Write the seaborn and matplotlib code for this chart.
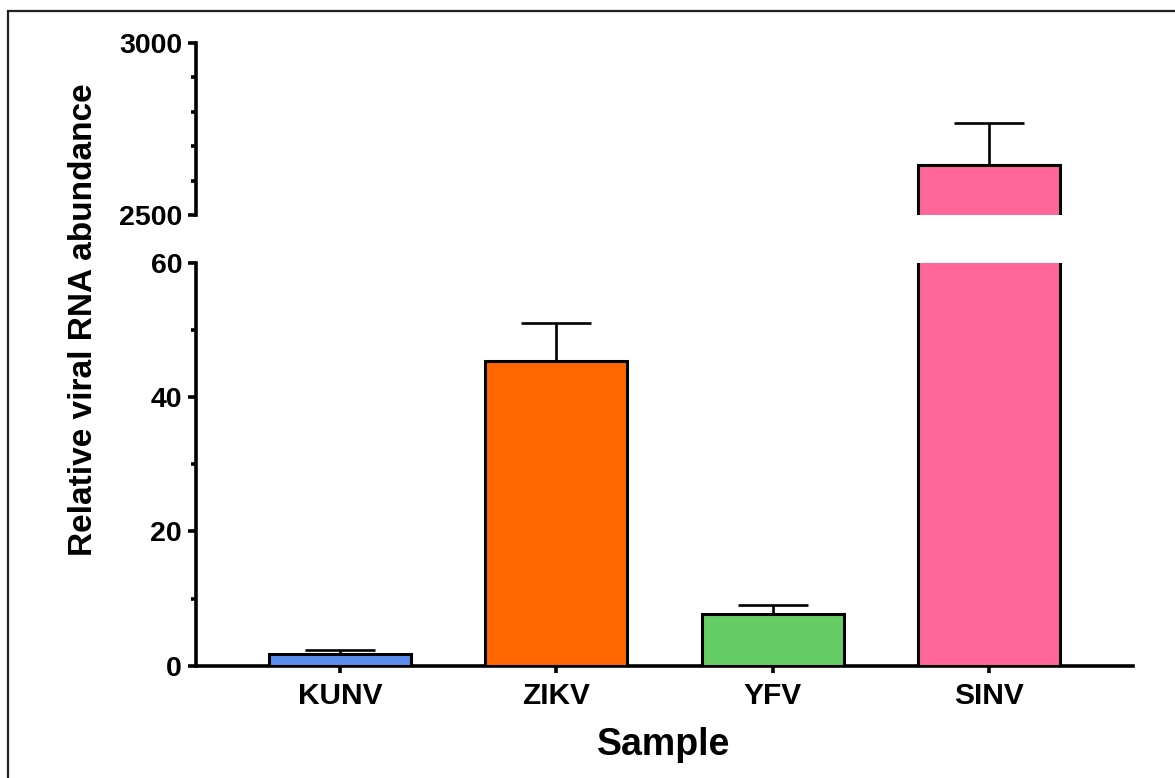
import matplotlib
matplotlib.use("Agg")
import matplotlib.pyplot as plt
from matplotlib.patches import Rectangle
from matplotlib.ticker import FixedLocator
import numpy as np
import seaborn as sns

# Relative viral RNA abundance per sample (mean and SEM)
samples = ["KUNV", "ZIKV", "YFV", "SINV"]
means = [1.7, 45.4, 7.7, 2645]
sem = [0.6, 5.6, 1.3, 123]
colors = ["#5B8DEF", "#FF6600", "#66CC66", "#FF6699"]

lower_ticks = [0, 20, 40, 60]
lower_minor = [10, 30, 50]
upper_ticks = [2500, 3000]
upper_minor = [2600, 2700, 2800, 2900]

sns.set_theme(style="ticks")
plt.rcParams["font.family"] = ["Liberation Sans", "DejaVu Sans"]
plt.rcParams["font.weight"] = "bold"
for key in ("text.color", "axes.labelcolor", "xtick.color", "ytick.color",
            "axes.edgecolor"):
    plt.rcParams[key] = "black"

fig = plt.figure(figsize=(11.75, 7.78), dpi=100)
left, width = 0.1668, 0.7975
ax_top = fig.add_axes([left, 0.7237, width, 0.2214])
ax_bot = fig.add_axes([left, 0.1444, width, 0.5176])

spine_lw = 2.6
for ax in (ax_top, ax_bot):
    sns.barplot(x=samples, y=means, hue=samples, palette=colors, saturation=1,
                width=0.657, edgecolor="black", linewidth=2.2, legend=False,
                errorbar=None, ax=ax, zorder=3)
    lower = np.zeros(len(means))
    ax.errorbar(range(len(samples)), means, yerr=[lower, sem], fmt="none",
                ecolor="black", elinewidth=1.9, capsize=25.5, capthick=1.9,
                zorder=2)
    ax.set_xlim(-0.667, 3.667)
    ax.set_xlabel("")
    ax.set_ylabel("")
    for s in ("top", "right"):
        ax.spines[s].set_visible(False)
    for s in ("left", "bottom"):
        ax.spines[s].set_linewidth(spine_lw)
        ax.spines[s].set_color("black")
    ax.tick_params(axis="y", which="major", length=6, width=spine_lw,
                   labelsize=20.5, pad=4, colors="black")
    ax.tick_params(axis="y", which="minor", length=3.5, width=spine_lw,
                   colors="black")
    ax.set_facecolor("white")

# Lower segment: 0 to 60
ax_bot.set_ylim(0, 60)
ax_bot.yaxis.set_major_locator(FixedLocator(lower_ticks))
ax_bot.yaxis.set_minor_locator(FixedLocator(lower_minor))
ax_bot.set_yticklabels([str(t) for t in lower_ticks], fontweight="bold")
ax_bot.set_xticks(range(len(samples)))
ax_bot.set_xticklabels(samples, fontsize=21.5, fontweight="bold")
ax_bot.tick_params(axis="x", length=5, width=spine_lw, pad=7, colors="black")

# Upper segment: 2500 to 3000
ax_top.set_ylim(2500, 3000)
ax_top.yaxis.set_major_locator(FixedLocator(upper_ticks))
ax_top.yaxis.set_minor_locator(FixedLocator(upper_minor))
ax_top.set_yticklabels([str(t) for t in upper_ticks], fontweight="bold")
ax_top.spines["bottom"].set_visible(False)
ax_top.set_xticks([])

fig.text(0.071, 0.589, "Relative viral RNA abundance", rotation=90,
         fontsize=24, fontweight="bold", ha="center", va="center")
fig.text(0.565, 0.042, "Sample", fontsize=27, fontweight="bold",
         ha="center", va="center")

# Outer frame
fig.patches.append(Rectangle((8 / 1175, -0.05), 1.2, 1 - 11 / 778 + 0.05,
                             transform=fig.transFigure, fill=False,
                             edgecolor="#222222", linewidth=1.6))

fig.savefig("out.png", dpi=100, facecolor="white")
